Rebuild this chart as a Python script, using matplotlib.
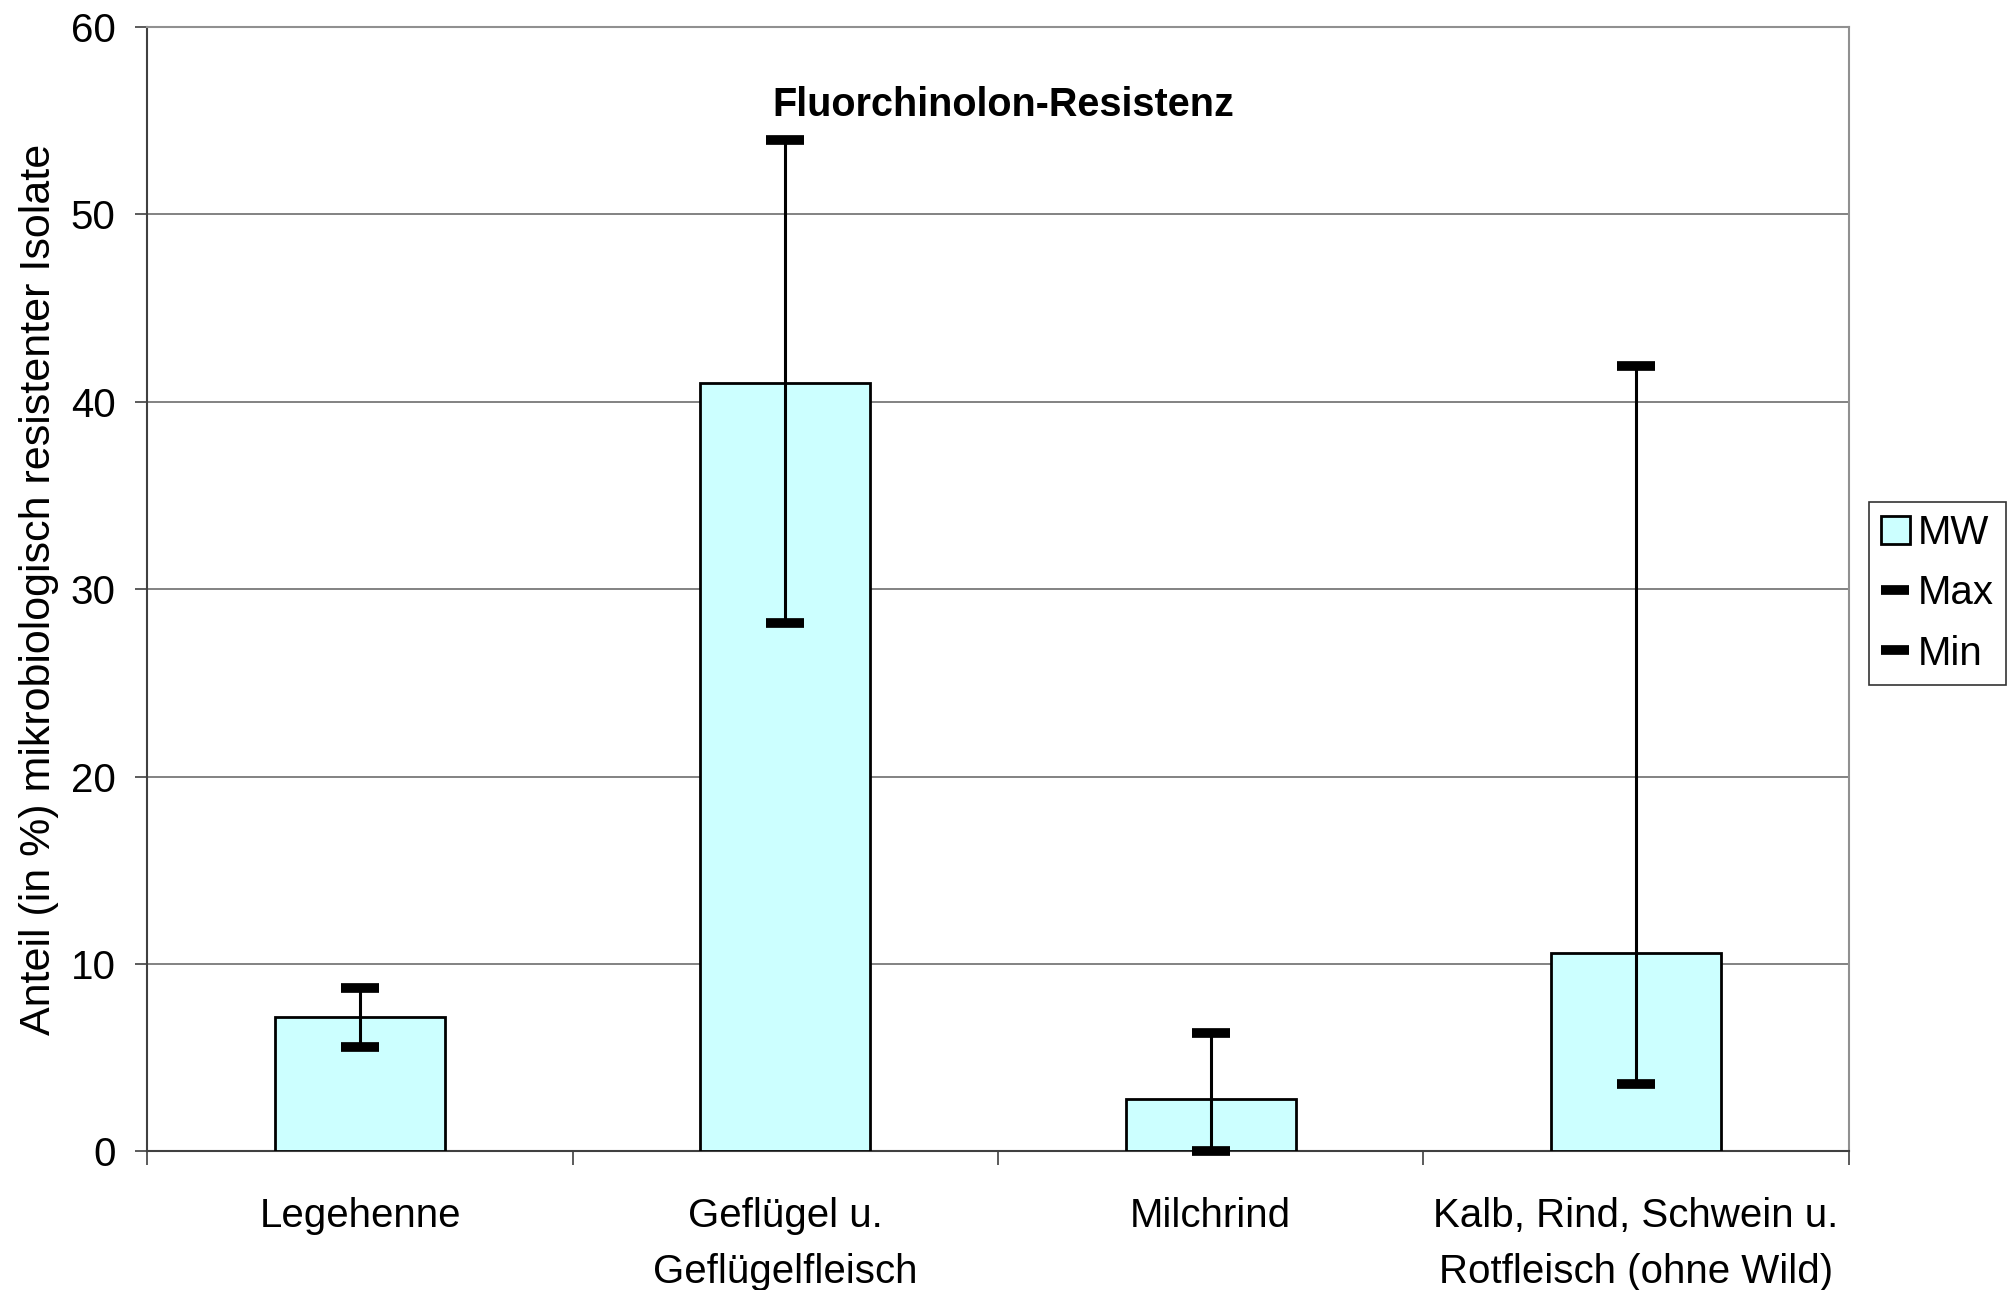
import matplotlib
matplotlib.use("Agg")
import matplotlib.pyplot as plt
import numpy as np

plt.rcParams['font.family'] = ['Liberation Sans', 'DejaVu Sans']

categories = ["Legehenne", "Geflügel u.\nGeflügelfleisch", "Milchrind",
              "Kalb, Rind, Schwein u.\nRotfleisch (ohne Wild)"]
mw = [7.2, 41.0, 2.8, 10.6]
max_vals = [8.7, 54.0, 6.3, 41.9]
min_vals = [5.6, 28.2, 0.0, 3.6]
title = "Fluorchinolon-Resistenz"
ylabel = "Anteil (in %) mikrobiologisch resistenter Isolate"
yticks = [0, 10, 20, 30, 40, 50, 60]

fig = plt.figure(figsize=(20.11, 12.90), dpi=100)
ax = fig.add_axes([0.0733, 0.1074, 0.846, 0.8716])

x = np.arange(len(categories))
bars = ax.bar(x, mw, width=0.40, color='#CCFFFF', edgecolor='black',
              linewidth=2.0, label='MW', zorder=3)
ax.vlines(x, min_vals, max_vals, color='black', linewidth=2.2, zorder=4)
mx, = ax.plot(x, max_vals, linestyle='none', marker='_', markersize=27,
              markeredgewidth=7, color='black', label='Max', zorder=5,
              clip_on=False)
mn, = ax.plot(x, min_vals, linestyle='none', marker='_', markersize=27,
              markeredgewidth=7, color='black', label='Min', zorder=5,
              clip_on=False)

ax.set_xlim(-0.5, len(categories) - 0.5)
ax.set_ylim(0, 60)
ax.set_yticks(yticks)
ax.set_yticklabels([str(v) for v in yticks])
ax.set_xticks(x)
ax.set_xticklabels(categories, linespacing=1.6)
ax.set_xticks(np.arange(-0.5, len(categories), 1.0), minor=True)
ax.tick_params(axis='x', which='major', length=0, pad=33, labelsize=29)
ax.tick_params(axis='x', which='minor', length=10, width=1.2, color='#404040')
ax.tick_params(axis='y', length=9, width=1.2, color='#404040', pad=14, labelsize=29)

ax.yaxis.grid(True, color='#606060', linewidth=1.1, zorder=0)
ax.set_axisbelow(True)
for side in ['top', 'right']:
    ax.spines[side].set_color('#909090')
    ax.spines[side].set_linewidth(1.5)
for side in ['left', 'bottom']:
    ax.spines[side].set_color('#404040')
    ax.spines[side].set_linewidth(1.5)

ax.set_ylabel(ylabel, fontsize=31)
ax.yaxis.set_label_coords(-0.052, 0.5)

ax.text(0.503, 0.931, title, transform=ax.transAxes, ha='center',
        va='center', fontsize=28.5, fontweight='bold')

leg = fig.legend(handles=[bars, mx, mn], loc='center left',
                 bbox_to_anchor=(0.9295, 0.540),
                 fontsize=29, frameon=True, fancybox=False, shadow=False,
                 handlelength=0.7, handleheight=0.7, handletextpad=0.2,
                 borderpad=0.3, labelspacing=0.55, borderaxespad=0.0,
                 markerscale=0.75)
leg.get_frame().set_edgecolor('black')
leg.get_frame().set_linewidth(1.2)

fig.savefig('out.png', dpi=100)
